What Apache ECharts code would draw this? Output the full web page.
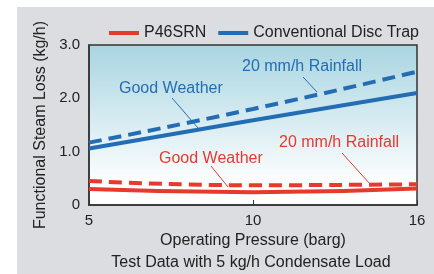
<!DOCTYPE html>
<html>
<head>
<meta charset="utf-8">
<script src="https://cdn.jsdelivr.net/npm/echarts@6/dist/echarts.min.js"></script>
<style>
  html, body { margin: 0; padding: 0; background: #fff; }
  #main { width: 434px; height: 274px; }
</style>
</head>
<body>
<div id="main"></div>
<script>
// operating pressure (barg)
var pressures = ['5', '10', '16'];
// steam loss, kg/h
var p46Good = [0.30, 0.24, 0.31];
var p46Rain = [0.45, 0.37, 0.39];
var discGood = [1.06, 1.59, 2.10];
var discRain = [1.17, 1.80, 2.50];

var RED = '#e63a2e';
var BLUE = '#236db5';
var FONT = 'Liberation Sans, Arial, sans-serif';

var myChart = echarts.init(document.getElementById('main'));

function line(name, data, color, dashed) {
  return {
    name: name,
    type: 'line',
    data: data,
    smooth: true,
    symbol: 'none',
    silent: true,
    lineStyle: { color: color, width: 4, type: dashed ? [13, 7] : 'solid' },
    itemStyle: { color: color }
  };
}

option = {
  backgroundColor: '#fff',
  textStyle: { fontFamily: FONT },
  legend: {
    top: 20,
    left: 104,
    itemWidth: 30,
    itemHeight: 4,
    itemGap: 12,
    icon: 'rect',
    textStyle: { fontSize: 16, color: '#222', fontFamily: FONT },
    data: ['P46SRN', 'Conventional Disc Trap']
  },
  grid: {
    left: 89, right: 17, top: 45, bottom: 69,
    show: true,
    borderColor: '#333',
    borderWidth: 1.5,
    backgroundColor: {
      type: 'linear', x: 0, y: 0, x2: 0, y2: 1,
      colorStops: [
        { offset: 0, color: '#a8d5e1' },
        { offset: 0.88, color: '#ffffff' },
        { offset: 1, color: '#ffffff' }
      ]
    }
  },
  xAxis: {
    type: 'category',
    data: pressures,
    boundaryGap: false,
    name: 'Operating Pressure (barg)',
    nameLocation: 'middle',
    nameGap: 25,
    nameTextStyle: { fontSize: 16, color: '#222' },
    axisLine: { lineStyle: { color: '#333', width: 1.5 } },
    axisTick: { inside: true, length: 5, lineStyle: { color: '#333' } },
    axisLabel: { fontSize: 15, color: '#222', margin: 8 },
    splitLine: { show: false }
  },
  yAxis: {
    type: 'value',
    min: 0, max: 3, interval: 0.5,
    name: 'Functional Steam Loss (kg/h)',
    nameLocation: 'middle',
    nameGap: 40,
    nameTextStyle: { fontSize: 16, color: '#222' },
    axisLine: { show: true, lineStyle: { color: '#333', width: 1.5 } },
    axisTick: { inside: true, length: 5, lineStyle: { color: '#333' } },
    axisLabel: {
      fontSize: 15, color: '#222', margin: 9,
      formatter: function (v) {
        if (v === 0) return '0';
        return (v % 1 === 0) ? v.toFixed(1) : '';
      }
    },
    splitLine: { show: false }
  },
  graphic: [
    { type: 'rect', silent: true, z: -10, shape: { x: 17, y: 7, width: 417, height: 267 }, style: { fill: '#dcdde1' } },
    { type: 'text', x: 251, y: 255, style: { text: 'Test Data with 5 kg/h Condensate Load', fill: '#222', font: '16px ' + FONT, textAlign: 'center' } },
    // blue annotations
    { type: 'text', x: 119, y: 81, style: { text: 'Good Weather', fill: BLUE, font: '16px ' + FONT }, z: 100 },
    { type: 'line', shape: { x1: 172, y1: 98, x2: 198, y2: 128 }, style: { stroke: BLUE, lineWidth: 1 }, z: 100 },
    { type: 'text', x: 242, y: 59, style: { text: '20 mm/h Rainfall', fill: BLUE, font: '16px ' + FONT }, z: 100 },
    { type: 'line', shape: { x1: 303, y1: 77, x2: 317, y2: 92 }, style: { stroke: BLUE, lineWidth: 1 }, z: 100 },
    // red annotations
    { type: 'text', x: 159, y: 151, style: { text: 'Good Weather', fill: RED, font: '16px ' + FONT }, z: 100 },
    { type: 'line', shape: { x1: 211, y1: 166, x2: 228, y2: 187 }, style: { stroke: RED, lineWidth: 1 }, z: 100 },
    { type: 'text', x: 279, y: 135, style: { text: '20 mm/h Rainfall', fill: RED, font: '16px ' + FONT }, z: 100 },
    { type: 'line', shape: { x1: 342, y1: 153, x2: 370, y2: 184 }, style: { stroke: RED, lineWidth: 1 }, z: 100 }
  ],
  series: [
    line('P46SRN', p46Good, RED, false),
    line('P46SRN', p46Rain, RED, true),
    line('Conventional Disc Trap', discGood, BLUE, false),
    line('Conventional Disc Trap', discRain, BLUE, true)
  ]
};
myChart.setOption(option);
</script>
</body>
</html>
